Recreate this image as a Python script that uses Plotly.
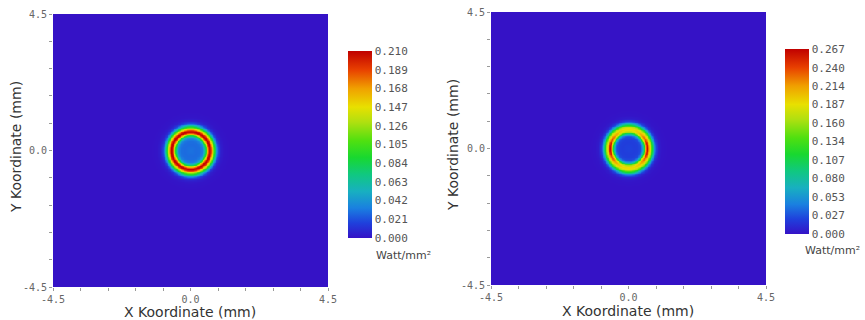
import numpy as np
import plotly.graph_objects as go

# ---- data ----
axis_ticks = [-4.5, -3.6, -2.7, -1.8, -0.9, 0.0, 0.9, 1.8, 2.7, 3.6, 4.5]
axis_ticktext = ["-4.5", "", "", "", "", "0.0", "", "", "", "", "4.5"]
x_title = "X Koordinate (mm)"
y_title = "Y Koordinate (mm)"
unit_label = "Watt/mm²"

# radial intensity profile (radius mm -> W/mm^2), left plot
radius_mm = [0.0, 0.1, 0.2, 0.3, 0.38, 0.44, 0.5, 0.55, 0.6, 0.63, 0.67, 0.72, 0.78, 0.84, 0.9, 0.95, 1.0, 1.1, 1.3]
left_profile = [0.030, 0.029, 0.028, 0.029, 0.033, 0.050, 0.095, 0.160, 0.205, 0.210, 0.192, 0.145, 0.095, 0.050, 0.020, 0.009, 0.004, 0.001, 0.0]
# right plot: base ring (top/bottom) and extra peak on the left/right sides
right_profile = [0.022, 0.021, 0.020, 0.021, 0.025, 0.045, 0.100, 0.160, 0.185, 0.190, 0.188, 0.165, 0.110, 0.055, 0.022, 0.010, 0.004, 0.001, 0.0]
right_side_extra = [0.0, 0.0, 0.0, 0.0, 0.0, 0.0, 0.005, 0.045, 0.080, 0.060, 0.020, 0.0, 0.0, 0.0, 0.0, 0.0, 0.0, 0.0, 0.0]
angle_deg = [0, 15, 30, 45, 60, 75, 90]
angle_weight = [1.0, 0.9, 0.65, 0.35, 0.12, 0.02, 0.0]

left_cbar_ticks = [0.000, 0.021, 0.042, 0.063, 0.084, 0.105, 0.126, 0.147, 0.168, 0.189, 0.210]
right_cbar_ticks = [0.000, 0.027, 0.053, 0.080, 0.107, 0.134, 0.160, 0.187, 0.214, 0.240, 0.267]

# ---- grid built from the arrays ----
coords = np.round(np.arange(-4.5, 4.5001, 0.025), 4)
X, Y = np.meshgrid(coords, coords)
R = np.hypot(X, Y)
TH = np.degrees(np.abs(np.arctan2(Y, X)))
TH = np.where(TH > 90, 180 - TH, TH)
z_left = np.interp(R, radius_mm, left_profile, right=0.0)
z_right = np.interp(R, radius_mm, right_profile, right=0.0) + \
    np.interp(R, radius_mm, right_side_extra, right=0.0) * np.interp(TH, angle_deg, angle_weight)

colorscale = [
    [0.00, "#3512c6"], [0.08, "#1f40dc"], [0.16, "#1a80e0"], [0.25, "#18b0c0"],
    [0.34, "#10c880"], [0.43, "#18d830"], [0.52, "#50e010"], [0.62, "#b0e010"],
    [0.70, "#e8e000"], [0.80, "#f0a000"], [0.90, "#e84000"], [1.00, "#c00000"],
]

W, H = 865, 320
mono = "DejaVu Sans Mono"

fig = go.Figure()
fig.add_trace(go.Heatmap(
    x=coords, y=coords, z=z_left, zmin=0, zmax=0.21, zsmooth="best",
    colorscale=colorscale, xaxis="x", yaxis="y",
    colorbar=dict(x=348 / W, xanchor="left", y=(H - 144.5) / H, yanchor="middle",
                  lenmode="pixels", len=187, thicknessmode="pixels", thickness=24,
                  outlinewidth=0, tickvals=left_cbar_ticks,
                  ticktext=[f"{v:.3f}" for v in left_cbar_ticks], ticks="",
                  tickfont=dict(family=mono, size=11, color="#555"), ypad=0, xpad=0),
))
fig.add_trace(go.Heatmap(
    x=coords, y=coords, z=z_right, zmin=0, zmax=0.267, zsmooth="best",
    colorscale=colorscale, xaxis="x2", yaxis="y2",
    colorbar=dict(x=785 / W, xanchor="left", y=(H - 141.5) / H, yanchor="middle",
                  lenmode="pixels", len=185, thicknessmode="pixels", thickness=24,
                  outlinewidth=0, tickvals=right_cbar_ticks,
                  ticktext=[f"{v:.3f}" for v in right_cbar_ticks], ticks="",
                  tickfont=dict(family=mono, size=11, color="#555"), ypad=0, xpad=0),
))

def ax(domain, anchor):
    return dict(domain=domain, anchor=anchor, range=[-4.5, 4.5], tickvals=axis_ticks,
                ticktext=axis_ticktext, ticks="outside", ticklen=3, tickcolor="#999",
                tickfont=dict(family=mono, size=10, color="#666"), showgrid=False,
                zeroline=False, showline=False, automargin=False)

title_font = dict(family="DejaVu Sans", size=14, color="#333")
annotations = []
for cx, cy_x, yx, cy_y in [(190, 312, 16, 147), (628, 311, 453, 145)]:
    annotations.append(dict(text=x_title, x=cx / W, y=(H - cy_x) / H, xref="paper", yref="paper",
                            xanchor="center", yanchor="middle", showarrow=False, font=title_font))
    annotations.append(dict(text=y_title, x=yx / W, y=(H - cy_y) / H, xref="paper", yref="paper",
                            xanchor="center", yanchor="middle", showarrow=False, textangle=-90,
                            font=title_font))
annotations.append(dict(text=unit_label, x=374 / W, y=(H - 255) / H, xref="paper", yref="paper",
                        xanchor="left", yanchor="middle", showarrow=False,
                        font=dict(family="DejaVu Sans", size=11, color="#444")))
annotations.append(dict(text=unit_label, x=803 / W, y=(H - 250) / H, xref="paper", yref="paper",
                        xanchor="left", yanchor="middle", showarrow=False,
                        font=dict(family="DejaVu Sans", size=11, color="#444")))

fig.update_layout(
    width=W, height=H, margin=dict(l=0, r=0, t=0, b=0, autoexpand=False),
    paper_bgcolor="white", plot_bgcolor="white", showlegend=False,
    xaxis=ax([53 / W, 328 / W], "y"),
    yaxis=ax([33 / H, 306 / H], "x"),
    xaxis2=ax([491 / W, 766 / W], "y2"),
    yaxis2=ax([35 / H, 308 / H], "x2"),
    annotations=annotations,
)

fig.write_html("out.html")
